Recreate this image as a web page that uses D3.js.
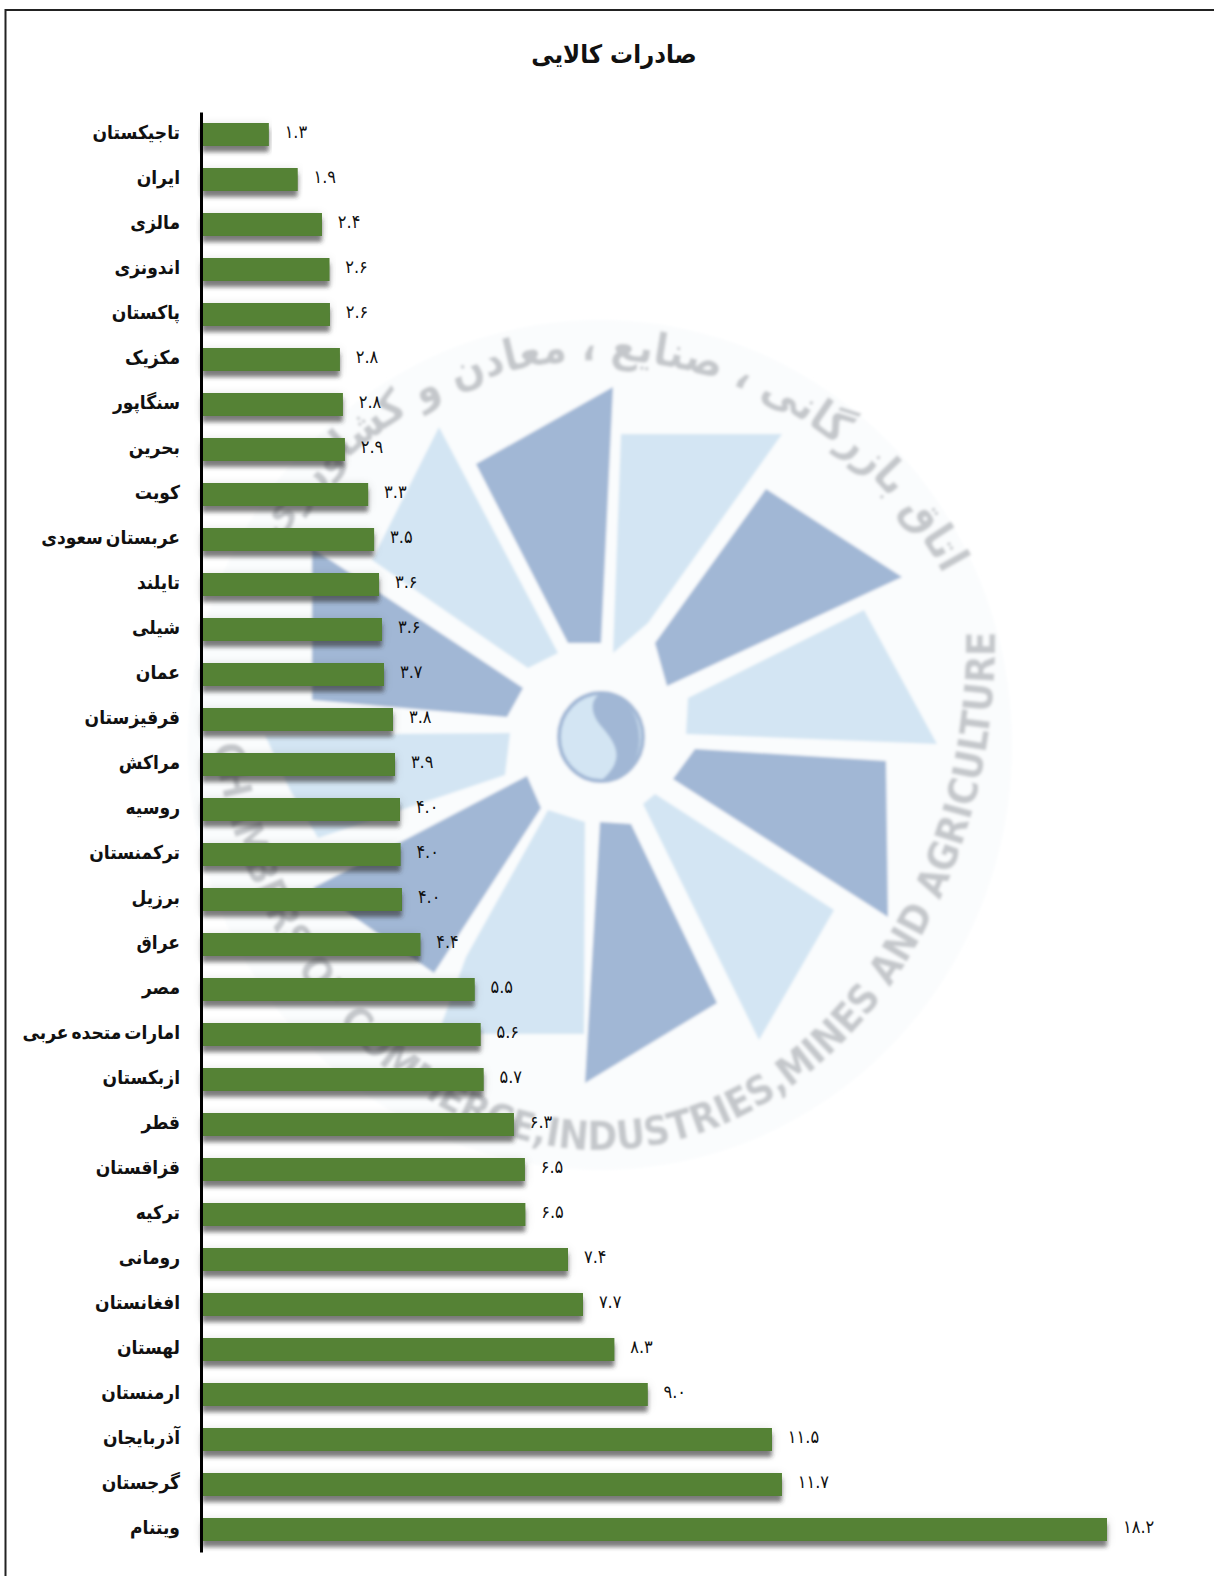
<!DOCTYPE html>
<html lang="fa">
<head>
<meta charset="utf-8">
<title>صادرات کالایی</title>
<script src="https://cdn.jsdelivr.net/npm/d3@7"></script>
<style>
    html, body { margin: 0; padding: 0; background: #fff; }
    svg { display: block; }
    text { font-family: "DejaVu Sans Condensed", "DejaVu Sans", sans-serif; }
    .axis path { stroke: #000; stroke-width: 3px; }
    .axis text { font-size: 19px; font-weight: bold; fill: #111; word-spacing: -3px; }
    .value { font-size: 18px; fill: #111; }
</style>
</head>
<body>
<svg id="chart" width="1214" height="1576"></svg>
<script>
var title = "صادرات کالایی";

var countries = ["تاجیکستان", "ایران", "مالزی", "اندونزی", "پاکستان", "مکزیک", "سنگاپور", "بحرین",
    "کویت", "عربستان سعودی", "تایلند", "شیلی", "عمان", "قرقیزستان", "مراکش", "روسیه",
    "ترکمنستان", "برزیل", "عراق", "مصر", "امارات متحده عربی", "ازبکستان", "قطر", "قزاقستان",
    "ترکیه", "رومانی", "افغانستان", "لهستان", "ارمنستان", "آذربایجان", "گرجستان", "ویتنام"];

// the labels are these rounded to one decimal
var exportsShare = [1.34, 1.92, 2.41, 2.56, 2.57, 2.77, 2.83, 2.87,
    3.34, 3.46, 3.56, 3.62, 3.66, 3.84, 3.88, 3.98,
    3.99, 4.02, 4.39, 5.48, 5.60, 5.66, 6.27, 6.49,
    6.50, 7.36, 7.66, 8.29, 8.96, 11.46, 11.66, 18.2];

// watermark of the chamber of commerce, behind the bars
var wedgesDark = [
    [[476,464],[613,387],[601,643],[568,643]],
    [[766,489],[902,577],[667,686],[655,643]],
    [[673,779],[695,749],[886,761],[888,917]],
    [[600,822],[631,824],[717,1003],[585,1083]],
    [[527,776],[541,808],[434,973],[313,888]],
    [[312,548],[523,688],[507,717],[312,700]]
];
var wedgesLight = [
    [[621,434],[782,434],[648,623],[613,653]],
    [[688,698],[864,610],[937,744],[686,734]],
    [[655,794],[834,910],[759,1040],[643,804]],
    [[548,810],[585,822],[584,1034],[438,1034],[466,957]],
    [[265,735],[510,733],[505,775],[318,838],[290,790]],
    [[439,427],[558,653],[528,668],[372,560]]
];
var ringFa = "اتاق بازرگانی ، صنایع ، معادن و کشاورزی";
var ringEn = "CHAMBERS OF COMMERCE,INDUSTRIES,MINES AND AGRICULTURE";

var svg = d3.select("#chart"),
    margin = {top: 112, right: 107, bottom: 24, left: 202},
    width = +svg.attr("width"),
    height = +svg.attr("height");

var defs = svg.append("defs");

var shadow = defs.append("filter")
    .attr("id", "barShadow")
    .attr("x", "-5%").attr("y", "-50%")
    .attr("width", "110%").attr("height", "220%");
shadow.append("feDropShadow")
    .attr("dx", 0).attr("dy", 2)
    .attr("stdDeviation", 5)
    .attr("flood-color", "#000").attr("flood-opacity", 0.16)
    .attr("result", "halo");
shadow.append("feDropShadow")
    .attr("in", "SourceGraphic")
    .attr("dx", 0).attr("dy", 6)
    .attr("stdDeviation", 2)
    .attr("flood-color", "#333").attr("flood-opacity", 0.6)
    .attr("result", "drop");
var shadowMerge = shadow.append("feMerge");
shadowMerge.append("feMergeNode").attr("in", "halo");
shadowMerge.append("feMergeNode").attr("in", "drop");

defs.append("filter").attr("id", "soft")
    .append("feGaussianBlur").attr("stdDeviation", 1.8);

// Frame, only top and left are drawn in the original
svg.append("path")
    .attr("d", "M5.5,1576V10H1214")
    .attr("fill", "none")
    .attr("stroke", "#222")
    .attr("stroke-width", 2);

// Watermark
var mark = svg.append("g").attr("filter", "url(#soft)");
var poly = function(p) { return "M" + p.join("L") + "Z"; };

mark.append("ellipse")
    .attr("cx", 600).attr("cy", 745)
    .attr("rx", 412).attr("ry", 425)
    .attr("fill", "#fafcfd");

mark.selectAll(".light").data(wedgesLight).enter().append("path")
    .attr("class", "light")
    .attr("d", poly)
    .attr("fill", "#d3e5f3");

mark.selectAll(".dark").data(wedgesDark).enter().append("path")
    .attr("class", "dark")
    .attr("d", poly)
    .attr("fill", "#a1b7d5");

mark.append("ellipse")
    .attr("cx", 601).attr("cy", 737)
    .attr("rx", 42).attr("ry", 44)
    .attr("fill", "#d3e5f3")
    .attr("stroke", "#a1b7d5").attr("stroke-width", 4);
mark.append("path")
    .attr("d", "M601,693C650,693 655,780 601,781C625,760 618,745 600,725C590,712 590,700 601,693Z")
    .attr("fill", "#a1b7d5");

defs.append("path").attr("id", "arcTop")
    .attr("d", "M200,800A400,440 0 0 1 1000,800");
defs.append("path").attr("id", "arcBottom")
    .attr("d", "M205,640A395,510 0 0 0 995,640");

mark.append("text")
    .attr("font-size", 44)
    .attr("font-weight", "bold")
    .attr("fill", "#c4c7cb")
    .append("textPath")
    .attr("href", "#arcTop")
    .attr("startOffset", "51.5%")
    .attr("text-anchor", "middle")
    .text(ringFa);

mark.append("text")
    .attr("font-size", 40)
    .attr("font-weight", "bold")
    .attr("fill", "#c4c7cb")
    .append("textPath")
    .attr("href", "#arcBottom")
    .attr("startOffset", "54%")
    .attr("text-anchor", "middle")
    .text(ringEn);

// Scales
var x = d3.scaleLinear()
    .domain([0, 18.2])
    .range([margin.left, width - margin.right]);

var y = d3.scaleBand()
    .domain(countries)
    .range([margin.top, height - margin.bottom])
    .paddingInner(0.49)
    .paddingOuter(0.245);

var rows = countries.map(function(d, i) { return {name: d, value: exportsShare[i]}; });

var toPersian = function(v) {
    return d3.format(".1f")(v).replace(/\d/g, function(c) { return "۰۱۲۳۴۵۶۷۸۹"[+c]; });
};

// Bars
svg.append("g")
    .selectAll("rect")
    .data(rows)
    .enter().append("rect")
    .attr("x", x(0))
    .attr("y", function(d) { return y(d.name); })
    .attr("width", function(d) { return x(d.value) - x(0); })
    .attr("height", y.bandwidth())
    .attr("fill", "#548235")
    .attr("filter", "url(#barShadow)");

// Value labels
svg.append("g")
    .selectAll("text")
    .data(rows)
    .enter().append("text")
    .attr("class", "value")
    .attr("x", function(d) { return x(d.value) + 16; })
    .attr("y", function(d) { return y(d.name) + y.bandwidth() / 2 - 3; })
    .attr("dy", "0.35em")
    .text(function(d) { return toPersian(d.value); });

// Category axis
svg.append("g")
    .attr("class", "axis")
    .attr("transform", "translate(" + (margin.left - 1) + ",0)")
    .call(d3.axisLeft(y).tickSize(0).tickPadding(21))
    .call(function(g) { g.selectAll(".tick text").attr("font-family", null).attr("dy", "0.25em"); });

// Title
svg.append("text")
    .attr("x", 614)
    .attr("y", 63)
    .attr("text-anchor", "middle")
    .attr("font-weight", "bold")
    .attr("font-size", 25.5)
    .attr("fill", "#111")
    .text(title);
</script>
</body>
</html>
